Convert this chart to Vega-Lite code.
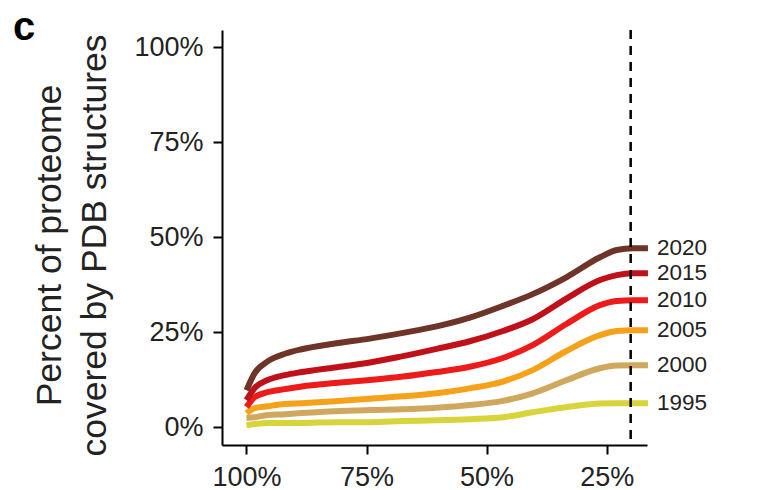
{
  "$schema": "https://vega.github.io/schema/vega-lite/v6.json",
  "autosize": "none",
  "width": 425,
  "height": 415,
  "padding": {"left": 222, "top": 30, "right": 126, "bottom": 45},
  "background": "white",
  "config": {
    "view": {"stroke": null},
    "font": "Liberation Sans",
    "axis": {"grid": false, "domainColor": "black", "domainWidth": 2, "tickColor": "black", "tickWidth": 2, "tickSize": 9, "labelFontSize": 27, "labelColor": "#222", "labelFont": "Liberation Sans"}
  },
  "title": {"text": "c", "anchor": "start", "frame": "group", "dx": -209, "offset": 0, "baseline": "top", "dy": 19, "fontSize": 40, "fontWeight": "bold", "color": "black", "font": "Liberation Sans"},
  "datasets": {
    "coverage": [
      {"year": "1995", "identity": 100, "coverage": 0.5}, {"year": "1995", "identity": 98.3, "coverage": 0.8}, {"year": "1995", "identity": 95.6, "coverage": 1.1}, {"year": "1995", "identity": 92.0, "coverage": 1.1}, {"year": "1995", "identity": 88.5, "coverage": 1.1}, {"year": "1995", "identity": 81.6, "coverage": 1.3}, {"year": "1995", "identity": 74.3, "coverage": 1.3}, {"year": "1995", "identity": 67.4, "coverage": 1.6}, {"year": "1995", "identity": 60.4, "coverage": 1.8}, {"year": "1995", "identity": 53.5, "coverage": 2.1}, {"year": "1995", "identity": 46.6, "coverage": 2.6}, {"year": "1995", "identity": 40.4, "coverage": 3.9}, {"year": "1995", "identity": 33.3, "coverage": 5.3}, {"year": "1995", "identity": 26.4, "coverage": 6.2}, {"year": "1995", "identity": 22.9, "coverage": 6.3}, {"year": "1995", "identity": 19.5, "coverage": 6.3}, {"year": "1995", "identity": 16.4, "coverage": 6.3},
      {"year": "2000", "identity": 100, "coverage": 2.4}, {"year": "2000", "identity": 98.3, "coverage": 2.6}, {"year": "2000", "identity": 95.6, "coverage": 3.2}, {"year": "2000", "identity": 92.0, "coverage": 3.4}, {"year": "2000", "identity": 88.5, "coverage": 3.7}, {"year": "2000", "identity": 81.6, "coverage": 4.2}, {"year": "2000", "identity": 74.3, "coverage": 4.5}, {"year": "2000", "identity": 67.4, "coverage": 4.7}, {"year": "2000", "identity": 60.4, "coverage": 5.1}, {"year": "2000", "identity": 53.5, "coverage": 5.8}, {"year": "2000", "identity": 46.6, "coverage": 6.9}, {"year": "2000", "identity": 40.4, "coverage": 8.9}, {"year": "2000", "identity": 33.3, "coverage": 12.4}, {"year": "2000", "identity": 26.4, "coverage": 15.5}, {"year": "2000", "identity": 22.9, "coverage": 16.2}, {"year": "2000", "identity": 19.5, "coverage": 16.3}, {"year": "2000", "identity": 16.4, "coverage": 16.3},
      {"year": "2005", "identity": 100, "coverage": 3.7}, {"year": "2005", "identity": 98.3, "coverage": 5.0}, {"year": "2005", "identity": 95.6, "coverage": 5.5}, {"year": "2005", "identity": 92.0, "coverage": 6.1}, {"year": "2005", "identity": 88.5, "coverage": 6.3}, {"year": "2005", "identity": 81.6, "coverage": 6.8}, {"year": "2005", "identity": 74.3, "coverage": 7.5}, {"year": "2005", "identity": 67.4, "coverage": 8.1}, {"year": "2005", "identity": 60.4, "coverage": 8.9}, {"year": "2005", "identity": 53.5, "coverage": 10.2}, {"year": "2005", "identity": 46.6, "coverage": 12.0}, {"year": "2005", "identity": 40.4, "coverage": 15.0}, {"year": "2005", "identity": 33.3, "coverage": 20.1}, {"year": "2005", "identity": 26.4, "coverage": 24.2}, {"year": "2005", "identity": 22.9, "coverage": 25.3}, {"year": "2005", "identity": 19.5, "coverage": 25.5}, {"year": "2005", "identity": 16.4, "coverage": 25.5},
      {"year": "2010", "identity": 100, "coverage": 5.3}, {"year": "2010", "identity": 98.3, "coverage": 7.9}, {"year": "2010", "identity": 95.6, "coverage": 9.2}, {"year": "2010", "identity": 92.0, "coverage": 10.0}, {"year": "2010", "identity": 88.5, "coverage": 10.7}, {"year": "2010", "identity": 81.6, "coverage": 11.6}, {"year": "2010", "identity": 74.3, "coverage": 12.4}, {"year": "2010", "identity": 67.4, "coverage": 13.3}, {"year": "2010", "identity": 60.4, "coverage": 14.5}, {"year": "2010", "identity": 53.5, "coverage": 15.9}, {"year": "2010", "identity": 46.6, "coverage": 18.2}, {"year": "2010", "identity": 40.4, "coverage": 21.6}, {"year": "2010", "identity": 33.3, "coverage": 27.2}, {"year": "2010", "identity": 26.4, "coverage": 32.1}, {"year": "2010", "identity": 22.9, "coverage": 33.2}, {"year": "2010", "identity": 19.5, "coverage": 33.4}, {"year": "2010", "identity": 16.4, "coverage": 33.4},
      {"year": "2015", "identity": 100, "coverage": 7.1}, {"year": "2015", "identity": 98.3, "coverage": 10.3}, {"year": "2015", "identity": 95.6, "coverage": 12.4}, {"year": "2015", "identity": 92.0, "coverage": 13.7}, {"year": "2015", "identity": 88.5, "coverage": 14.5}, {"year": "2015", "identity": 81.6, "coverage": 15.7}, {"year": "2015", "identity": 74.3, "coverage": 17.0}, {"year": "2015", "identity": 67.4, "coverage": 18.7}, {"year": "2015", "identity": 60.4, "coverage": 20.6}, {"year": "2015", "identity": 53.5, "coverage": 22.6}, {"year": "2015", "identity": 46.6, "coverage": 25.3}, {"year": "2015", "identity": 40.4, "coverage": 28.4}, {"year": "2015", "identity": 33.3, "coverage": 33.9}, {"year": "2015", "identity": 26.4, "coverage": 38.7}, {"year": "2015", "identity": 22.9, "coverage": 40.0}, {"year": "2015", "identity": 19.5, "coverage": 40.5}, {"year": "2015", "identity": 16.4, "coverage": 40.5},
      {"year": "2020", "identity": 100, "coverage": 9.7}, {"year": "2020", "identity": 98.3, "coverage": 14.2}, {"year": "2020", "identity": 95.6, "coverage": 17.3}, {"year": "2020", "identity": 92.0, "coverage": 19.3}, {"year": "2020", "identity": 88.5, "coverage": 20.5}, {"year": "2020", "identity": 81.6, "coverage": 22.0}, {"year": "2020", "identity": 74.3, "coverage": 23.3}, {"year": "2020", "identity": 67.4, "coverage": 24.8}, {"year": "2020", "identity": 60.4, "coverage": 26.5}, {"year": "2020", "identity": 53.5, "coverage": 28.8}, {"year": "2020", "identity": 46.6, "coverage": 31.9}, {"year": "2020", "identity": 40.4, "coverage": 35.0}, {"year": "2020", "identity": 33.3, "coverage": 39.5}, {"year": "2020", "identity": 26.4, "coverage": 44.7}, {"year": "2020", "identity": 22.9, "coverage": 46.6}, {"year": "2020", "identity": 19.5, "coverage": 47.1}, {"year": "2020", "identity": 16.4, "coverage": 47.1}
    ],
    "cutoff": [{"identity": 20}]
  },
  "encoding": {
    "x": {
      "field": "identity", "type": "quantitative",
      "scale": {"domain": [16.6, 105.1], "reverse": true, "nice": false, "zero": false},
      "axis": {"values": [100, 75, 50, 25], "labelExpr": "datum.value + '%'", "title": null, "labelPadding": 10}
    },
    "y": {
      "field": "coverage", "type": "quantitative",
      "scale": {"domain": [-4.7, 104.5], "nice": false, "zero": false},
      "axis": {
        "values": [0, 25, 50, 75, 100], "labelExpr": "datum.value + '%'", "labelPadding": 10,
        "title": ["Percent of proteome", "covered by PDB structures"],
        "titleFontSize": 35.5, "titleFontWeight": "normal", "titleColor": "#222", "titleFont": "Liberation Sans",
        "titleLineHeight": 45, "titleX": -155, "titleY": 215, "titleAnchor": "middle"
      }
    }
  },
  "layer": [
    {
      "data": {"name": "coverage"},
      "mark": {"type": "line", "interpolate": "monotone", "strokeWidth": 6, "strokeCap": "butt"},
      "encoding": {
        "color": {
          "field": "year", "type": "nominal", "legend": null,
          "scale": {"domain": ["1995", "2000", "2005", "2010", "2015", "2020"], "range": ["#d8d43c", "#cfa85e", "#f5a21a", "#ee1b1b", "#c0101a", "#6e3427"]}
        }
      }
    },
    {
      "data": {"name": "cutoff"},
      "mark": {"type": "rule", "color": "black", "strokeWidth": 2.5, "strokeDash": [9, 7]},
      "encoding": {"x": {"field": "identity", "type": "quantitative"}, "y": null}
    },
    {
      "data": {"name": "coverage"},
      "transform": [{"filter": "datum.identity == 16.4"}],
      "mark": {"type": "text", "align": "left", "baseline": "middle", "dx": 9, "fontSize": 22.5, "color": "#222", "font": "Liberation Sans"},
      "encoding": {"text": {"field": "year"}}
    }
  ]
}
